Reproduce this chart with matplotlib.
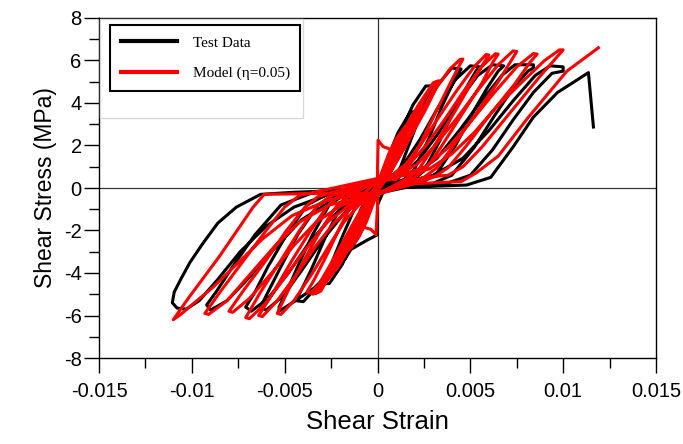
import numpy as np
import matplotlib.pyplot as plt
from matplotlib.lines import Line2D
from matplotlib.patches import Rectangle
from matplotlib.ticker import MultipleLocator, FuncFormatter

plt.rcParams['font.family'] = ['Liberation Sans', 'DejaVu Sans']

# --- data: (shear strain x 1e-3, shear stress MPa) ---
test_pts = [
    # cycle 1
    (0, 0), (0.3, 0.3), (0.6, 1.0), (0.85, 1.7), (1.0, 2.0), (0.85, 1.95), (0.5, 1.2), (0.2, 0.5), (0, 0.1),
    (-0.3, -0.3), (-0.6, -1.0), (-0.85, -1.7), (-1.0, -2.0), (-0.85, -1.95), (-0.5, -1.2), (-0.2, -0.5), (0, -0.05),
    # cycle 2
    (0.4, 0.2), (0.9, 1.1), (1.4, 2.4), (1.8, 3.3), (2.0, 3.6), (1.75, 3.55), (1.1, 2.6), (0.5, 1.3), (0.15, 0.4), (0, 0.1),
    (-0.4, -0.2), (-0.9, -1.0), (-1.4, -2.2), (-1.8, -3.1), (-2.0, -3.4), (-1.75, -3.35), (-1.1, -2.4), (-0.5, -1.2), (-0.15, -0.4), (0, 0),
    # cycle 3
    (0.6, 0.2), (1.2, 0.9), (1.9, 2.5), (2.5, 3.9), (2.85, 4.6), (3.0, 4.8), (2.6, 4.8), (1.9, 3.9), (1.1, 2.3), (0.5, 0.9), (0.15, 0.3), (0, 0.1),
    (-0.6, -0.2), (-1.2, -0.9), (-1.9, -2.3), (-2.5, -3.6), (-2.85, -4.3), (-3.0, -4.5), (-2.6, -4.5), (-1.9, -3.6), (-1.1, -2.1), (-0.5, -0.8), (-0.15, -0.3), (0, 0),
    # cycle 4
    (1.2, 0.2), (2.0, 0.9), (2.8, 2.4), (3.5, 3.9), (4.1, 5.0), (4.5, 5.6), (4.0, 5.65), (3.2, 4.8), (2.2, 3.3), (1.3, 1.7), (0.6, 0.6), (0, 0.05),
    (-1.2, -0.2), (-2.0, -0.9), (-2.8, -2.3), (-3.6, -3.9), (-4.1, -4.8), (-4.4, -5.3), (-4.0, -5.35), (-3.1, -4.5), (-2.1, -3.0), (-1.2, -1.6), (-0.5, -0.5), (0, -0.05),
    # cycle 5
    (1.6, 0.15), (2.5, 0.8), (3.4, 2.3), (4.2, 3.8), (4.9, 4.9), (5.3, 5.5), (5.5, 5.7), (5.0, 5.75), (4.2, 5.1), (3.2, 3.7), (2.3, 2.3), (1.4, 1.1), (0.6, 0.35), (0, 0.05),
    (-1.6, -0.2), (-2.6, -0.8), (-3.5, -2.2), (-4.3, -3.7), (-4.9, -4.9), (-5.3, -5.6), (-5.3, -5.8), (-4.5, -5.35), (-3.4, -4.7), (-2.5, -3.9), (-1.45, -2.9), (-0.55, -2.45), (0, -2.2), (0, -0.8), (0.3, -0.2),
    # cycle 6
    (2.2, 0.15), (3.2, 0.7), (4.2, 2.0), (5.1, 3.5), (5.9, 4.7), (6.5, 5.5), (6.8, 5.75), (6.2, 5.8), (5.4, 5.3), (4.3, 4.0), (3.3, 2.6), (2.2, 1.3), (1.1, 0.45), (0, 0.05),
    (-2.0, -0.2), (-3.2, -0.8), (-4.3, -2.2), (-5.2, -3.7), (-5.9, -4.9), (-6.3, -5.6), (-6.0, -5.75), (-5.1, -5.1), (-4.1, -3.9), (-3.0, -2.5), (-1.9, -1.3), (-0.9, -0.4), (0, -0.05),
    # cycle 7
    (2.8, 0.15), (4.0, 0.6), (5.2, 1.9), (6.3, 3.4), (7.3, 4.7), (8.1, 5.5), (8.4, 5.65), (8.4, 5.8), (7.4, 5.8), (6.7, 5.3), (5.6, 4.1), (4.4, 2.7), (3.2, 1.4), (1.8, 0.5), (0, 0),
    (-2.5, -0.2), (-3.8, -0.8), (-4.9, -2.2), (-5.9, -3.7), (-6.6, -4.9), (-7.1, -5.6), (-6.8, -5.8), (-5.9, -5.2), (-4.8, -4.0), (-3.7, -2.6), (-2.5, -1.4), (-1.2, -0.45), (0, -0.05),
    # cycle 8
    (3.5, 0.15), (5.0, 0.6), (6.2, 1.8), (7.3, 3.2), (8.4, 4.5), (9.4, 5.4), (10.0, 5.5), (10.0, 5.7), (9.3, 5.75), (8.5, 5.3), (7.3, 4.1), (6.0, 2.7), (4.6, 1.4), (3.0, 0.6), (1.2, 0.2), (0, 0),
    (-3.5, -0.22), (-5.2, -0.8), (-6.6, -2.2), (-7.8, -3.7), (-8.7, -4.9), (-9.2, -5.5), (-9.0, -5.75), (-8.1, -5.3), (-6.9, -4.2), (-5.6, -2.9), (-4.1, -1.5), (-2.3, -0.5), (0, -0.05),
    # cycle 9 (negative)
    (-2.0, -0.12), (-4.5, -0.2), (-6.3, -0.3), (-7.6, -0.9), (-8.6, -1.65), (-9.4, -2.6), (-10.1, -3.5), (-10.6, -4.3), (-10.95, -4.9), (-11.05, -5.4),
    (-10.8, -5.65), (-10.3, -5.7), (-9.6, -5.3), (-8.6, -4.3), (-7.4, -3.0), (-6.0, -1.8), (-4.5, -0.9), (-2.8, -0.35), (-1.0, -0.1), (0, 0),
    # final push to failure
    (2.0, 0.05), (4.8, 0.14), (6.1, 0.5), (7.3, 1.93), (8.4, 3.34), (9.7, 4.5), (10.6, 5.0), (11.36, 5.43), (11.63, 2.87),
]

model_pts = [
    # small cycles near the origin
    (0, 0), (0, 0.9), (0.03, 2.25), (0.3, 1.95), (0.9, 1.75), (1.5, 2.6), (1.7, 3.0), (1.45, 2.85), (1.0, 2.3), (0.6, 1.6), (0.3, 0.9), (0, 0.2),
    (0, -0.8), (-0.08, -2.2), (-0.35, -1.95), (-0.9, -1.8), (-1.5, -2.6), (-1.7, -3.0), (-1.45, -2.85), (-1.0, -2.3), (-0.6, -1.6), (-0.3, -0.9), (0, -0.2),
    (0.3, 0.5), (0.8, 1.5), (1.5, 2.5), (2.1, 3.4), (2.4, 3.9), (2.15, 3.75), (1.5, 2.8), (0.9, 1.8), (0.4, 0.8), (0, 0.1),
    (-0.3, -0.5), (-0.8, -1.5), (-1.5, -2.5), (-2.1, -3.4), (-2.4, -3.9), (-2.15, -3.75), (-1.5, -2.8), (-0.9, -1.8), (-0.4, -0.8), (0, -0.1),
    (0.4, 0.5), (1.0, 1.5), (1.7, 2.5), (2.4, 3.6), (2.9, 4.4), (3.2, 5.0), (2.95, 4.85), (2.3, 3.8), (1.6, 2.7), (1.0, 1.7), (0.4, 0.7), (0, 0.15),
    (-0.4, -0.5), (-1.0, -1.5), (-1.7, -2.5), (-2.4, -3.6), (-2.9, -4.4), (-3.3, -4.95), (-3.05, -4.85), (-2.4, -3.8), (-1.7, -2.7), (-1.0, -1.7), (-0.4, -0.7), (0, -0.15),
    (0.5, 0.45), (1.2, 1.5), (1.9, 2.6), (2.6, 3.7), (3.1, 4.6), (3.3, 5.05), (3.0, 4.95), (2.2, 3.9), (1.4, 2.7), (0.8, 1.6), (0.3, 0.6), (0, 0.2),
    (-0.5, -0.45), (-1.2, -1.5), (-1.9, -2.6), (-2.6, -3.7), (-3.2, -4.6), (-3.5, -5.0), (-3.2, -4.9), (-2.3, -3.9), (-1.5, -2.7), (-0.8, -1.6), (-0.3, -0.6), (0, -0.2),
    # growing cycles
    (0, 0.35), (1.0, 0.4), (1.5, 0.8), (2.2, 1.9), (3.1, 3.5), (3.9, 4.9), (4.4, 5.75), (4.6, 6.07),
    (4.45, 6.05), (3.9, 5.6), (3.0, 4.5), (2.2, 3.2), (1.5, 2.0), (0.9, 1.1), (0.4, 0.55), (0, 0.35),
    (-0.9, -0.4), (-1.4, -0.8), (-2.0, -1.8), (-2.7, -3.1), (-3.4, -4.3), (-3.8, -4.9),
    (-3.6, -4.95), (-3.1, -4.5), (-2.3, -3.4), (-1.6, -2.3), (-1.0, -1.3), (-0.5, -0.6), (0, -0.3),
    (1.6, 0.45), (2.2, 0.85), (3.0, 1.9), (4.1, 3.5), (5.1, 5.0), (5.7, 5.85), (6.0, 6.26),
    (5.85, 6.28), (5.2, 5.7), (4.2, 4.5), (3.2, 3.2), (2.3, 2.0), (1.5, 1.1), (0.7, 0.55), (0, 0.35),
    (-1.6, -0.4), (-2.2, -0.85), (-3.0, -1.9), (-3.9, -3.3), (-4.8, -4.8), (-5.4, -5.9),
    (-5.2, -5.95), (-4.5, -5.3), (-3.5, -4.0), (-2.6, -2.7), (-1.8, -1.6), (-1.0, -0.8), (0, -0.3),
    (2.0, 0.5), (2.6, 0.9), (3.4, 1.9), (4.5, 3.4), (5.6, 4.9), (6.2, 5.9), (6.5, 6.3),
    (6.35, 6.32), (5.6, 5.7), (4.6, 4.5), (3.6, 3.2), (2.6, 2.0), (1.7, 1.1), (0.8, 0.55), (0, 0.4),
    (-2.1, -0.4), (-2.7, -0.85), (-3.6, -2.0), (-4.6, -3.4), (-5.6, -4.9), (-6.4, -6.0),
    (-6.2, -6.05), (-5.4, -5.3), (-4.3, -4.0), (-3.3, -2.7), (-2.3, -1.6), (-1.2, -0.8), (0, -0.3),
    (2.5, 0.5), (3.2, 0.95), (4.1, 2.0), (5.3, 3.5), (6.5, 5.0), (7.2, 6.0), (7.5, 6.42),
    (7.3, 6.45), (6.5, 5.8), (5.4, 4.6), (4.2, 3.2), (3.1, 2.0), (2.1, 1.1), (1.0, 0.6), (0, 0.4),
    (-2.6, -0.4), (-3.3, -0.9), (-4.2, -2.0), (-5.2, -3.4), (-6.3, -4.9), (-7.1, -6.1),
    (-6.9, -6.15), (-6.0, -5.4), (-4.9, -4.1), (-3.8, -2.8), (-2.7, -1.6), (-1.5, -0.8), (0, -0.3),
    (3.0, 0.5), (3.8, 0.95), (4.8, 2.0), (6.1, 3.5), (7.4, 4.9), (8.2, 5.9), (8.6, 6.3),
    (8.4, 6.33), (7.5, 5.7), (6.3, 4.5), (5.0, 3.1), (3.8, 1.9), (2.6, 1.0), (1.2, 0.6), (0, 0.4),
    (-3.2, -0.4), (-3.9, -0.9), (-4.9, -2.0), (-6.0, -3.4), (-7.2, -4.8), (-8.0, -5.8),
    (-7.8, -5.85), (-6.9, -5.2), (-5.7, -4.0), (-4.5, -2.7), (-3.3, -1.6), (-1.9, -0.8), (0, -0.3),
    (2.5, 0.5), (3.8, 0.6), (4.6, 1.0), (5.6, 1.9), (7.2, 3.6), (8.7, 5.2), (9.6, 6.1), (10.0, 6.5),
    (9.8, 6.5), (9.0, 6.0), (7.8, 5.0), (6.4, 3.8), (5.2, 2.6), (4.0, 1.6), (2.8, 0.9), (1.5, 0.6), (0, 0.45),
    (-4.2, -0.35), (-5.0, -0.9), (-6.0, -2.0), (-7.2, -3.4), (-8.4, -4.8), (-9.3, -5.9),
    (-9.1, -5.95), (-8.1, -5.3), (-6.8, -4.0), (-5.5, -2.7), (-4.2, -1.6), (-2.6, -0.8), (0, -0.25),
    (-3.0, -0.25), (-6.1, -0.3), (-6.7, -0.9), (-8.5, -3.2), (-10.2, -5.2), (-11.0, -6.2),
    (-10.6, -5.95), (-10.0, -5.5), (-8.9, -4.7), (-7.6, -3.6), (-6.2, -2.4), (-4.6, -1.3), (-2.6, -0.55), (0, -0.2),
    # final
    (2.0, 0.2), (4.5, 0.3), (5.3, 0.7), (6.5, 1.5), (8.1, 3.3), (10.2, 5.5), (11.9, 6.6),
]

series_labels = ['Test Data', 'Model (\u03b7=0.05)']
series_colors = ['black', 'red']

test = np.array(test_pts)
model = np.array(model_pts)

fig = plt.figure(figsize=(6.83, 4.44), dpi=100)
ax = fig.add_axes([99 / 683, 1 - 358 / 444, 557 / 683, 340 / 444])

ax.axhline(0, color='#333333', lw=0.9, zorder=1)
ax.axvline(0, color='#333333', lw=0.9, zorder=1)

ax.plot(test[:, 0] * 1e-3, test[:, 1], color=series_colors[0], lw=2.2,
        solid_joinstyle='round', zorder=2)
ax.plot(model[:, 0] * 1e-3, model[:, 1], color=series_colors[1], lw=2.2,
        solid_joinstyle='round', zorder=3)

ax.set_xlim(-0.015, 0.015)
ax.set_ylim(-8, 8)
ax.xaxis.set_major_locator(MultipleLocator(0.005))
ax.xaxis.set_minor_locator(MultipleLocator(0.0025))
ax.yaxis.set_major_locator(MultipleLocator(2))
ax.yaxis.set_minor_locator(MultipleLocator(1))


def fmt(v, pos):
    if abs(v) < 1e-12:
        return '0'
    return f'{round(v, 4):g}'


ax.xaxis.set_major_formatter(FuncFormatter(fmt))
ax.yaxis.set_major_formatter(FuncFormatter(fmt))
ax.tick_params(which='major', direction='out', length=10.5, width=1.0, labelsize=14.5)
ax.tick_params(which='minor', direction='out', length=7, width=1.0)
ax.tick_params(axis='x', which='major', pad=7)
ax.tick_params(axis='y', which='major', pad=2)
for s in ax.spines.values():
    s.set_linewidth(1.0)

ax.set_xlabel('Shear Strain', fontsize=18.5, labelpad=6)
ax.set_ylabel('Shear Stress (MPa)', fontsize=16.5, labelpad=5)

# faint backing box behind the legend
ax.add_patch(Rectangle((0.002, 0.706), 0.364, 0.29, transform=ax.transAxes,
                       facecolor='white', edgecolor='#d8d8d8', lw=1.0, zorder=4))

handles = [Line2D([], [], color=c, lw=3) for c in series_colors]
leg = ax.legend(handles, series_labels, loc='upper left', bbox_to_anchor=(0.02, 0.979),
                prop={'family': 'Liberation Serif', 'size': 11}, fancybox=False,
                edgecolor='black', framealpha=1, handlelength=3.7, handletextpad=1.0,
                labelspacing=1.1, borderpad=0.7, borderaxespad=0)
leg.get_frame().set_linewidth(1.5)
leg.set_zorder(5)

fig.savefig('out.png', dpi=100)
